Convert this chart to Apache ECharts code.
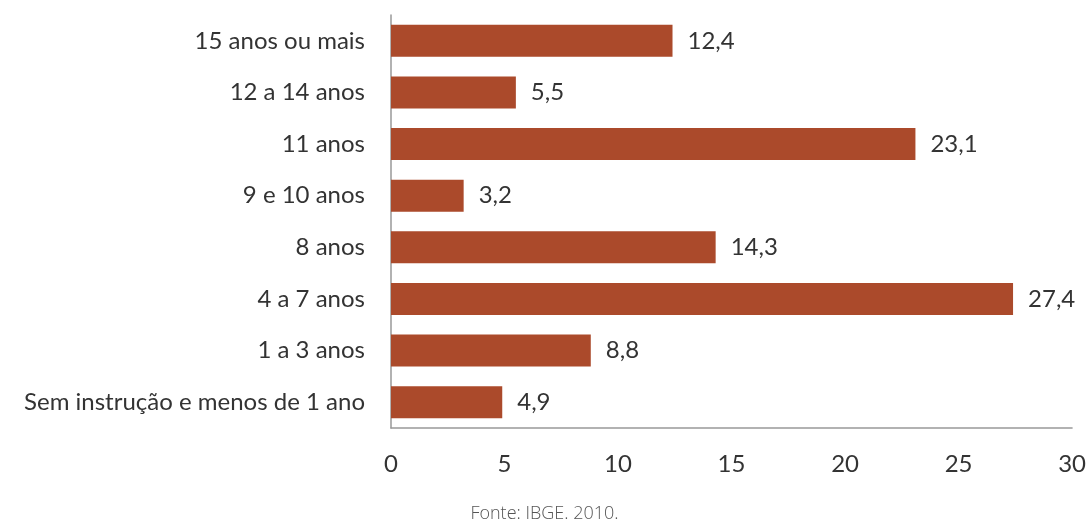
<!DOCTYPE html>
<html><head><meta charset="utf-8">
<script src="https://cdn.jsdelivr.net/npm/echarts@6/dist/echarts.min.js"></script>
<style>html,body{margin:0;padding:0;background:#fff}#c{width:1089px;height:520px}</style>
</head><body><div id="c"></div>
<script>
const categories = ["Sem instrução e menos de 1 ano","1 a 3 anos","4 a 7 anos","8 anos","9 e 10 anos","11 anos","12 a 14 anos","15 anos ou mais"];
const values = [4.9, 8.8, 27.4, 14.3, 3.2, 23.1, 5.5, 12.4];
const source = "Fonte: IBGE. 2010.";
const chart = echarts.init(document.getElementById('c'), null, {renderer:'canvas'});
const font = 'Lato';
chart.setOption({
  animation:false,
  grid:{left:391, right:16, top:15, bottom:92, containLabel:false},
  title:{text:source, left:'center', top:500, textStyle:{fontFamily:'Open Sans', fontWeight:300, fontSize:18, color:'#555'}},
  xAxis:{type:'value', min:0, max:30, interval:5,
    axisLine:{show:true, lineStyle:{color:'#999', width:1.5}},
    axisTick:{show:false}, splitLine:{show:false},
    axisLabel:{fontFamily:font, fontSize:24, color:'#333', margin:24}},
  yAxis:{type:'category', data:categories,
    axisLine:{show:true, lineStyle:{color:'#999', width:1.5}},
    axisTick:{show:false},
    axisLabel:{fontFamily:font, fontSize:24, color:'#333', margin:26}},
  series:[{type:'bar', data:values, barWidth:'62%',
    itemStyle:{color:'#AB4A2B'},
    label:{show:true, position:'right', distance:15, fontFamily:font, fontSize:24, color:'#333',
      formatter:p=>p.value.toFixed(1).replace('.',',')}}]
});
</script></body></html>
